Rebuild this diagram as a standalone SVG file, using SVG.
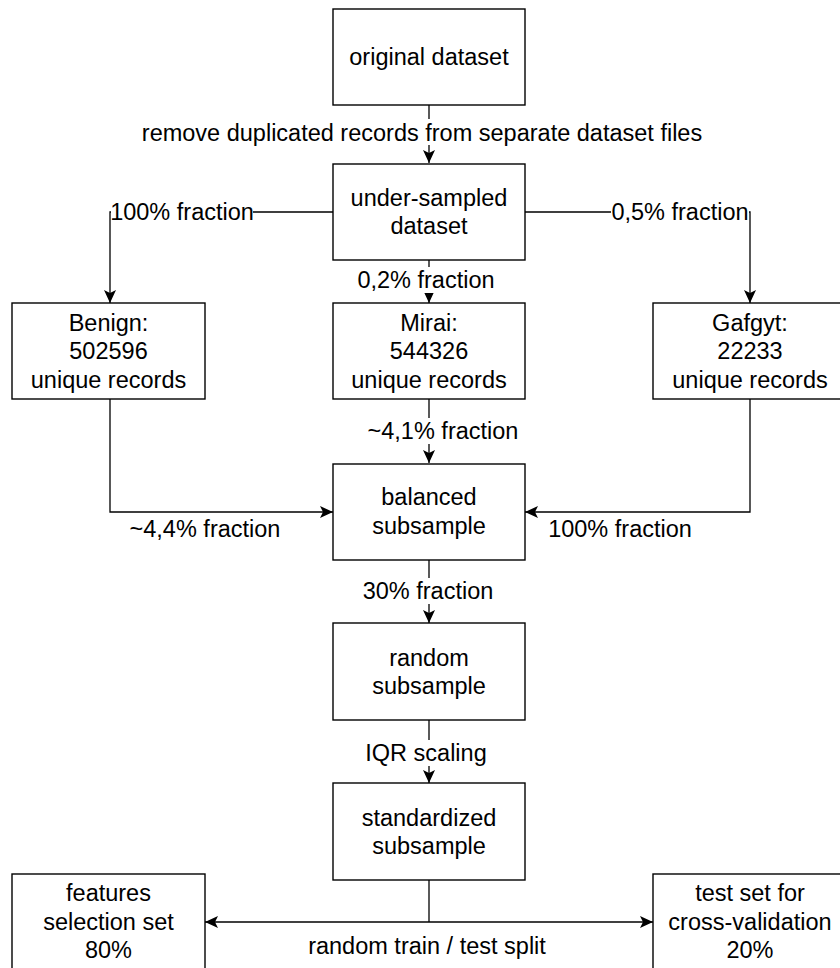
<svg xmlns="http://www.w3.org/2000/svg" width="840" height="968" viewBox="0 0 840 968">
  <style>
    .box { fill: #ffffff; stroke: #000000; stroke-width: 1.4; }
    .edge { fill: none; stroke: #000000; stroke-width: 1.3; }
    .t { font-family: "Liberation Sans", Arial, sans-serif; font-size: 23.5px; fill: #000000; text-anchor: middle; }
    .lbg { fill: #ffffff; }
  </style>
  <defs>
    <marker id="arrow" viewBox="0 0 14 12" refX="13" refY="6" markerWidth="14" markerHeight="12" markerUnits="userSpaceOnUse" orient="auto">
      <path d="M0,0 L13,6 L0,12 L3,6 Z" fill="#000000"/>
    </marker>
  </defs>

  <rect width="840" height="968" fill="#ffffff"/>

  <!-- connectors -->
  <g id="connectors">
    <path class="edge" d="M429,105 L429,163" marker-end="url(#arrow)"/>
    <path class="edge" d="M333,212 L110,212 L110,303" marker-end="url(#arrow)"/>
    <path class="edge" d="M525,212 L750,212 L750,303" marker-end="url(#arrow)"/>
    <path class="edge" d="M429,260 L429,303" marker-end="url(#arrow)"/>
    <path class="edge" d="M429,399 L429,463" marker-end="url(#arrow)"/>
    <path class="edge" d="M110,399 L110,512 L333,512" marker-end="url(#arrow)"/>
    <path class="edge" d="M750,399 L750,512 L525,512" marker-end="url(#arrow)"/>
    <path class="edge" d="M429,560 L429,623" marker-end="url(#arrow)"/>
    <path class="edge" d="M429,720 L429,783" marker-end="url(#arrow)"/>
    <path class="edge" d="M429,880 L429,922"/>
    <path class="edge" d="M429,922 L205,922" marker-end="url(#arrow)"/>
    <path class="edge" d="M429,922 L653,922" marker-end="url(#arrow)"/>

    <!-- edge labels -->
    <rect class="lbg" x="138" y="119" width="568" height="26"/>
    <text class="t" x="422" y="141">remove duplicated records from separate dataset files</text>
    <rect class="lbg" x="111" y="199" width="142" height="26"/>
    <text class="t" x="182" y="220">100% fraction</text>
    <rect class="lbg" x="611" y="199" width="138" height="26"/>
    <text class="t" x="680" y="220">0,5% fraction</text>
    <rect class="lbg" x="355" y="267" width="141" height="26"/>
    <text class="t" x="426" y="288">0,2% fraction</text>
    <rect class="lbg" x="365" y="418" width="156" height="26"/>
    <text class="t" x="443" y="439">~4,1% fraction</text>
    <text class="t" x="205" y="537">~4,4% fraction</text>
    <text class="t" x="620" y="537">100% fraction</text>
    <rect class="lbg" x="360" y="578" width="135" height="26"/>
    <text class="t" x="428" y="599">30% fraction</text>
    <rect class="lbg" x="363" y="740" width="126" height="26"/>
    <text class="t" x="426" y="761">IQR scaling</text>
    <text class="t" x="427" y="954">random train / test split</text>
  </g>

  <!-- nodes -->
  <g id="original-dataset">
    <rect class="box" x="333" y="9" width="192" height="96"/>
    <text class="t" x="429" y="65">original dataset</text>
  </g>
  <g id="under-sampled-dataset">
    <rect class="box" x="333" y="164" width="192" height="96"/>
    <text class="t" x="429" y="206">under-sampled</text>
    <text class="t" x="429" y="234">dataset</text>
  </g>
  <g id="benign">
    <rect class="box" x="12" y="303" width="193" height="96"/>
    <text class="t" x="108.5" y="331">Benign:</text>
    <text class="t" x="108.5" y="359">502596</text>
    <text class="t" x="108.5" y="388">unique records</text>
  </g>
  <g id="mirai">
    <rect class="box" x="333" y="303" width="192" height="96"/>
    <text class="t" x="429" y="331">Mirai:</text>
    <text class="t" x="429" y="359">544326</text>
    <text class="t" x="429" y="388">unique records</text>
  </g>
  <g id="gafgyt">
    <rect class="box" x="653" y="303" width="193" height="96"/>
    <text class="t" x="750" y="331">Gafgyt:</text>
    <text class="t" x="750" y="359">22233</text>
    <text class="t" x="750" y="388">unique records</text>
  </g>
  <g id="balanced-subsample">
    <rect class="box" x="333" y="464" width="192" height="96"/>
    <text class="t" x="429" y="505">balanced</text>
    <text class="t" x="429" y="534">subsample</text>
  </g>
  <g id="random-subsample">
    <rect class="box" x="333" y="623" width="192" height="97"/>
    <text class="t" x="429" y="666">random</text>
    <text class="t" x="429" y="694">subsample</text>
  </g>
  <g id="standardized-subsample">
    <rect class="box" x="333" y="783" width="192" height="97"/>
    <text class="t" x="429" y="826">standardized</text>
    <text class="t" x="429" y="854">subsample</text>
  </g>
  <g id="features-selection-set">
    <rect class="box" x="12" y="874" width="193" height="100"/>
    <text class="t" x="108.5" y="901">features</text>
    <text class="t" x="108.5" y="930">selection set</text>
    <text class="t" x="108.5" y="958">80%</text>
  </g>
  <g id="test-set">
    <rect class="box" x="653" y="874" width="193" height="100"/>
    <text class="t" x="750" y="901">test set for</text>
    <text class="t" x="750" y="930">cross-validation</text>
    <text class="t" x="750" y="958">20%</text>
  </g>
</svg>
